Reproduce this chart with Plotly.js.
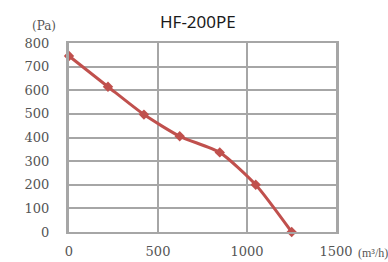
<!DOCTYPE html>
<html><head><meta charset="utf-8">
<script src="https://cdn.plot.ly/plotly-3.0.1.min.js"></script>
<style>body{margin:0;background:#fff}#c{width:388px;height:262px}
.xtick text,.ytick text{font-family:"DejaVu Serif",serif !important}</style>
</head><body><div id="c"></div>
<script>
const airflow = [0, 219, 421, 622, 847, 1049, 1251];
const pressure = [745, 615, 497, 405, 337, 200, 0];
const xTicks = [0, 500, 1000, 1500];
const yTicks = [0, 100, 200, 300, 400, 500, 600, 700, 800];
const titleText = 'HF-200PE';
const yUnit = '(Pa)';
const xUnit = '(m³/h)';

const serif = 'DejaVu Serif';
const tickFont = {family: serif, size: 13, color: '#555'};
Plotly.newPlot('c', [{
  x: airflow, y: pressure, mode: 'lines+markers', type: 'scatter',
  line: {color: '#c0504d', width: 3, shape: 'spline', smoothing: 0.6},
  marker: {symbol: 'diamond', size: 8, color: '#c0504d'},
  cliponaxis: false, hoverinfo: 'none'
}], {
  width: 388, height: 262,
  margin: {l: 69, r: 52, t: 43, b: 30},
  paper_bgcolor: '#fff', plot_bgcolor: '#fff',
  showlegend: false,
  title: {text: titleText, x: 0.51, xanchor: 'center', y: 0.915, yanchor: 'middle',
    font: {family: 'Noto Sans', size: 17, color: '#1a1a1a'}},
  xaxis: {range: [0, 1500], tickvals: xTicks, ticktext: xTicks.map(String),
    showgrid: true, gridcolor: '#a6a6a6', gridwidth: 2,
    showline: true, linecolor: '#a6a6a6', linewidth: 2, mirror: true,
    zeroline: false, ticks: '', tickfont: tickFont, ticklabelstandoff: 6, fixedrange: true},
  yaxis: {range: [0, 800], tickvals: yTicks, ticktext: yTicks.map(String),
    showgrid: true, gridcolor: '#a6a6a6', gridwidth: 2,
    showline: true, linecolor: '#a6a6a6', linewidth: 3, mirror: true,
    zeroline: false, ticks: '', tickfont: tickFont, ticklabelstandoff: 14, fixedrange: true},
  annotations: [
    {text: yUnit, xref: 'paper', yref: 'paper', x: -0.04, y: 1.09, xanchor: 'right', yanchor: 'middle',
      showarrow: false, font: {family: serif, size: 12, color: '#555'}},
    {text: xUnit, xref: 'paper', yref: 'paper', x: 1.075, y: -0.11, xanchor: 'left', yanchor: 'middle',
      showarrow: false, font: {family: 'Liberation Serif', size: 12, color: '#555'}}
  ]
}, {staticPlot: true});
</script></body></html>
